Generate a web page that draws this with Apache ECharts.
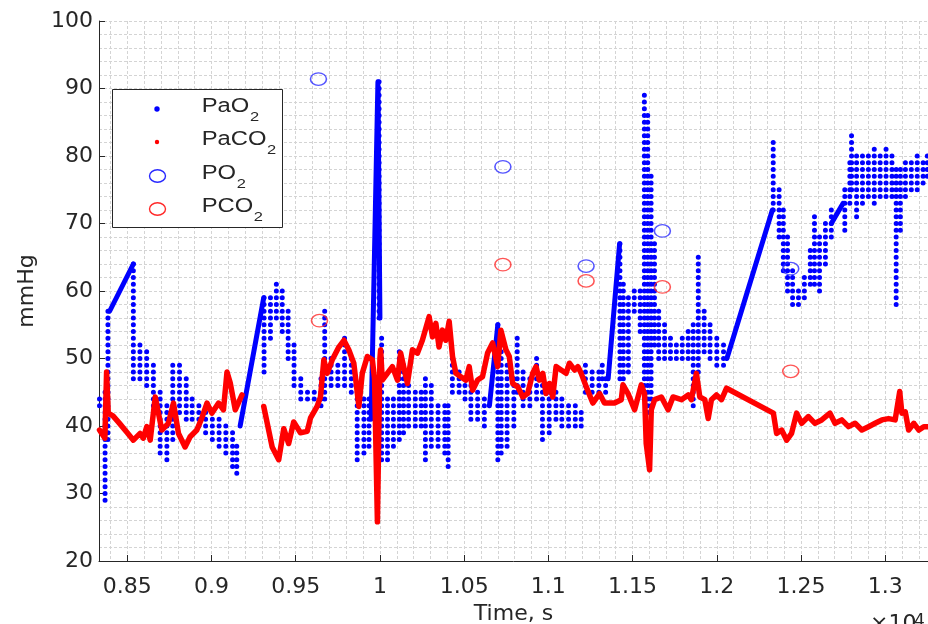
<!DOCTYPE html>
<html>
<head>
<meta charset="utf-8">
<script src="https://cdn.jsdelivr.net/npm/echarts@6.0.0/dist/echarts.min.js"></script>
<style>html,body{margin:0;padding:0;background:#fff}#c{width:928px;height:624px}</style>
</head>
<body>
<div id="c"></div>
<script>
// ---------- data ----------
// time axis tick labels are in units of 10^4 s
var xTickStep = 500;
var yTicks = [20, 30, 40, 50, 60, 70, 80, 90, 100];

// PaO2 dense samples: each entry = [time s, lowest mmHg, highest mmHg] of a vertical run of 1-mmHg samples
var pao2Columns = [
  [8335,43,44],[8368,29,45],[8385,38,57],
  [8536,47,64],[8575,47,52],[8615,46,51],[8655,43,49],
  [8695,36,45],[8735,35,43],[8770,38,49],[8810,42,49],[8850,41,47],[8885,41,44],
  [8925,40,43],[8965,39,42],[9005,38,41],[9045,37,41],[9085,36,40],[9125,34,39],[9150,33,37],
  [9312,48,59],[9350,53,59],[9385,56,61],[9420,54,60],[9455,50,57],[9490,46,52],[9530,44,47],
  [9570,44,45],[9610,44,45],[9650,43,47],[9672,44,57],[9710,46,50],[9750,46,49],[9790,46,53],
  [9830,45,50],[9865,35,45],[9905,36,44],[9935,37,44],
  [9995,56,91],
  [10010,35,53],[10045,35,44],[10080,37,44],[10115,38,51],[10140,39,49],[10170,40,46],[10210,40,45],
  [10245,40,45],[10270,35,47],[10305,37,46],[10345,37,43],[10385,36,43],[10405,34,43],[10430,45,50],
  [10470,45,48],[10505,44,47],[10540,41,46],[10580,41,45],[10620,40,44],
  [10700,35,55],[10720,36,52],[10755,37,49],[10795,40,47],[10815,45,53],[10850,43,48],[10890,43,47],
  [10930,44,50],[10965,38,47],[11005,39,46],[11045,41,45],[11080,40,44],[11120,40,43],[11160,40,43],
  [11195,40,42],[11220,45,49],[11260,45,48],[11300,45,48],[11320,47,49],[11340,45,47],
  [11425,47,67],[11445,46,61],[11475,48,59],[11510,57,60],[11545,54,60],
  [11570,44,89],[11590,42,86],[11610,43,77],[11630,52,67],[11655,50,57],[11690,50,55],[11725,50,53],
  [11760,50,52],[11795,50,53],[11830,50,54],[11860,43,55],[11890,48,65],[11925,51,57],[11960,50,55],
  [12000,49,53],[12040,49,52],
  [12335,72,82],[12370,68,75],[12395,63,72],[12420,60,68],[12450,58,63],[12485,58,60],[12520,59,62],
  [12555,61,66],[12580,61,71],[12610,60,68],[12645,64,70],[12680,68,72],
  [12760,69,75],[12790,73,79],[12800,75,83],[12830,71,80],[12865,73,80],[12900,74,80],[12935,73,81],
  [12970,74,80],[13005,74,81],[13040,74,80],[13065,58,78],[13090,69,78],[13120,74,79],[13155,75,79],
  [13190,75,80],[13225,76,79],[13250,77,80]
];

// PaO2 stretches where the samples form straight runs
var pao2Runs = [
  [[8395,57],[8536,64]],
  [[9170,40],[9310,59]],
  [[9948,41],[9988,91],[10000,56]],
  [[10650,43],[10700,55]],
  [[11355,47],[11423,67]],
  [[12060,50],[12330,72]],
  [[12680,70],[12750,73]]
];

// PaCO2 trace (two recorded stretches)
var paco2First = [
  [8335,39.4],[8367,38.2],[8377,48.0],[8387,41.9],[8415,41.5],[8450,40.5],[8500,39.0],[8536,37.9],
  [8576,38.9],[8595,38.2],[8616,39.9],[8636,37.9],[8666,44.3],[8705,39.4],[8744,40.4],[8774,43.4],
  [8804,38.9],[8843,36.9],[8873,38.4],[8913,39.4],[8943,41.2],[8973,43.4],[9002,41.9],[9042,43.4],
  [9071,42.4],[9092,48.0],[9111,46.4],[9141,42.4],[9181,44.6]
];
var paco2Second = [
  [9310,42.9],[9360,36.9],[9399,35.0],[9429,39.6],[9458,37.4],[9488,40.6],[9528,39.0],[9568,39.2],
  [9588,41.2],[9627,42.9],[9647,44.3],[9667,49.8],[9687,47.8],[9717,49.8],[9756,51.7],[9786,52.7],
  [9815,51.3],[9845,49.3],[9875,42.9],[9895,47.8],[9925,50.3],[9955,49.8],[9968,47.0],[9985,25.8],
  [10000,50.0],[10004,51.3],[10014,46.8],[10044,47.8],[10074,48.8],[10104,46.8],[10123,50.8],
  [10163,46.3],[10193,51.3],[10223,50.8],[10252,52.7],[10292,56.2],[10312,53.2],[10332,55.2],
  [10351,51.7],[10371,54.2],[10391,52.7],[10411,55.5],[10431,50.3],[10451,47.8],[10480,47.3],
  [10510,46.8],[10530,48.8],[10550,45.3],[10580,46.8],[10609,47.3],[10639,50.8],[10669,52.3],
  [10699,48.8],[10718,54.2],[10748,51.3],[10768,50.3],[10788,46.3],[10818,45.8],[10848,44.3],
  [10877,44.8],[10907,47.8],[10927,48.8],[10946,46.8],[10967,47.8],[10986,44.8],[11006,46.3],
  [11026,44.3],[11046,48.8],[11076,48.3],[11105,47.8],[11125,49.3],[11155,48.3],[11175,48.8],
  [11195,47.8],[11225,45.8],[11264,43.4],[11304,44.8],[11333,43.4],[11393,43.4],[11433,43.9],
  [11443,46.1],[11473,44.8],[11512,42.4],[11552,46.1],[11571,44.8],[11581,37.4],[11601,33.5],
  [11611,42.4],[11631,43.9],[11671,44.3],[11711,42.4],[11740,44.3],[11790,43.9],[11830,44.6],
  [11849,43.9],[11879,47.8],[11899,44.3],[11929,43.9],[11949,41.1],[11968,43.9],[11998,44.6],
  [12028,43.9],[12058,45.6],[12336,41.9],[12355,38.9],[12385,39.4],[12415,37.9],[12444,38.9],
  [12474,41.9],[12504,40.4],[12544,41.4],[12583,40.4],[12623,40.9],[12672,41.9],[12702,40.4],
  [12742,40.9],[12782,39.9],[12821,40.4],[12861,39.4],[12901,39.9],[12940,40.4],[12980,40.9],
  [13020,41.1],[13059,40.9],[13086,45.1],[13099,41.9],[13119,42.1],[13139,39.4],[13170,40.4],
  [13200,39.4],[13229,39.9],[13254,39.9]
];

// Sampled blood gas values (open circles)
var po2Samples  = [[9635,91.4],[10730,78.4],[11224,63.7],[11677,68.9],[12439,63.3]];
var pco2Samples = [[9641,55.6],[10730,63.9],[11224,61.5],[11677,60.6],[12439,48.1]];

var legendNames = [['PaO','2'],['PaCO','2'],['PO','2'],['PCO','2']];

// ---------- styling ----------
var FONT = '"DejaVu Sans", "Liberation Sans", Arial, sans-serif';
var LFONT = '"Liberation Sans", Arial, Helvetica, sans-serif';
var TXT = '#262626';
var GRIDC = '#d4d4d4';
var BLUE = '#0000ff';
var RED = '#ff0000';
var ELLIPSE = 'path://M0,50A50,50,0,1,1,100,50A50,50,0,1,1,0,50Z';

function fmtX(v) {
  var k = v / xTickStep;
  if (Math.abs(k - Math.round(k)) > 1e-6) return '';
  return String(+(v / 1e4).toFixed(2));
}

var chart = echarts.init(document.getElementById('c'), null, {renderer: 'canvas'});

var series = [];
series.push({
  type: 'custom', name: 'PaO2', xAxisIndex: 0, yAxisIndex: 0, silent: true,
  data: pao2Columns,
  encode: {x: 0, y: [1, 2]},
  renderItem: function (params, api) {
    var t = api.value(0), lo = api.value(1), hi = api.value(2);
    var a = api.coord([t, lo]), b = api.coord([t, hi]);
    var step = a[1] - api.coord([t, lo + 1])[1];
    return {
      type: 'line',
      shape: {x1: a[0], y1: a[1], x2: b[0], y2: b[1] - 0.6},
      style: {stroke: BLUE, lineWidth: 5, lineCap: 'round', lineDash: [0.01, step - 0.01], fill: null}
    };
  }
});
pao2Runs.forEach(function (r) {
  series.push({
    type: 'line', name: 'PaO2', data: r, symbol: 'none', silent: true,
    lineStyle: {color: BLUE, width: 5, cap: 'round', join: 'round'}, itemStyle: {color: BLUE}
  });
});
[paco2First, paco2Second].forEach(function (d) {
  series.push({
    type: 'line', name: 'PaCO2', data: d, symbol: 'none', silent: true,
    lineStyle: {color: RED, width: 5.5, cap: 'round', join: 'round'}, itemStyle: {color: RED}
  });
});
series.push({
  type: 'scatter', name: 'PO2', data: po2Samples, symbol: ELLIPSE, symbolSize: [16, 12.5], silent: true,
  itemStyle: {color: 'rgba(0,0,0,0)', borderColor: '#2a2aff', borderWidth: 1.4}
});
series.push({
  type: 'scatter', name: 'PCO2', data: pco2Samples, symbol: ELLIPSE, symbolSize: [16, 12.5], silent: true,
  itemStyle: {color: 'rgba(0,0,0,0)', borderColor: '#ff2a2a', borderWidth: 1.4}
});

// legend drawn as a MATLAB-style boxed legend
var graphic = [];
graphic.push({type: 'rect', shape: {x: 112.5, y: 89.5, width: 170, height: 138},
  style: {fill: '#fff', stroke: TXT, lineWidth: 1}, z: 100});
var rowsY = [109, 142, 176, 209];
var mcv = document.createElement('canvas').getContext('2d');
mcv.font = '19.5px ' + LFONT;
legendNames.forEach(function (nm, i) {
  var cy = rowsY[i];
  var mk;
  if (i === 0) mk = {type: 'circle', shape: {cx: 157, cy: cy, r: 2.7}, style: {fill: BLUE}};
  else if (i === 1) mk = {type: 'circle', shape: {cx: 157, cy: cy, r: 2.2}, style: {fill: RED}};
  else mk = {type: 'ellipse', shape: {cx: 157.5, cy: cy, rx: 8, ry: 6.2},
    style: {fill: 'none', stroke: i === 2 ? '#2a2aff' : '#ff2a2a', lineWidth: 1.4}};
  mk.z = 101;
  graphic.push(mk);
  var w = mcv.measureText(nm[0]).width;
  graphic.push({
    type: 'group', x: 201.7, y: cy, scaleX: 1.22, z: 101,
    children: [
      {type: 'text', z: 101, style: {x: 0, y: -2.3, text: nm[0], font: '19.5px ' + LFONT, fill: TXT, verticalAlign: 'middle', align: 'left'}},
      {type: 'text', z: 101, style: {x: w + 0.5, y: 8, text: nm[1], font: '13.5px ' + LFONT, fill: TXT, verticalAlign: 'middle', align: 'left'}}
    ]
  });
});
// axis exponent
graphic.push({type: 'text', z: 101, style: {x: 870, y: 613, text: '\u00d710', font: '22px ' + FONT, fill: TXT, verticalAlign: 'top'}});
graphic.push({type: 'text', z: 101, style: {x: 914, y: 613, text: '4', font: '17px ' + FONT, fill: TXT, verticalAlign: 'top'}});

var gridLine = {show: true, lineStyle: {color: GRIDC, type: [3, 2], width: 1}};

var option = {
  animation: false,
  backgroundColor: '#ffffff',
  grid: {left: 99, right: 0, top: 21, bottom: 63, containLabel: false, outerBoundsMode: 'none'},
  xAxis: [
    {
      type: 'value', min: 8332, max: 13254, splitNumber: 10, position: 'bottom',
      name: 'Time, s', nameLocation: 'middle', nameGap: 41,
      nameTextStyle: {fontSize: 22, color: TXT, fontFamily: FONT},
      axisLine: {show: true, onZero: false, lineStyle: {color: TXT, width: 1}},
      axisTick: {show: true, inside: true, length: 6, lineStyle: {color: TXT}},
      axisLabel: {margin: 15, fontSize: 22, color: TXT, fontFamily: FONT, formatter: fmtX},
      splitLine: gridLine
    },
    {
      type: 'value', min: 8332, max: 13254, splitNumber: 49, position: 'bottom',
      axisLine: {show: false}, axisTick: {show: false}, axisLabel: {show: false},
      splitLine: gridLine
    }
  ],
  yAxis: [
    {
      type: 'value', min: yTicks[0], max: yTicks[yTicks.length - 1], interval: 10,
      name: 'mmHg', nameLocation: 'middle', nameGap: 61, nameRotate: 90,
      nameTextStyle: {fontSize: 22, color: TXT, fontFamily: FONT},
      axisLine: {show: true, onZero: false, lineStyle: {color: TXT, width: 1}},
      axisTick: {show: true, inside: true, length: 6, lineStyle: {color: TXT}},
      axisLabel: {margin: 6, fontSize: 22, color: TXT, fontFamily: FONT},
      splitLine: gridLine
    },
    {
      type: 'value', min: yTicks[0], max: yTicks[yTicks.length - 1], interval: 2, position: 'left',
      axisLine: {show: false}, axisTick: {show: false}, axisLabel: {show: false},
      splitLine: gridLine
    }
  ],
  series: series,
  graphic: graphic
};
chart.setOption(option);
</script>
</body>
</html>
